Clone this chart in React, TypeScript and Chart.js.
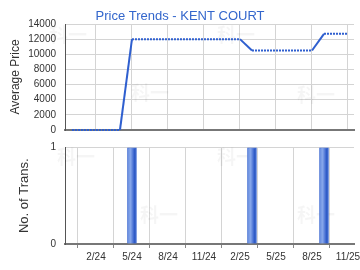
import React, { useEffect, useRef } from "react";
import { Chart, registerables } from "chart.js";

Chart.register(...registerables);

const TITLE = "Price Trends - KENT COURT";
const Y_TITLE_TOP = "Average Price";
const Y_TITLE_BOTTOM = "No. of Trans.";

// months counted from Jan 2024 (0 = 1/24)
const TICK_MONTHS = [1, 4, 7, 10, 13, 16, 19, 22];
const TICK_LABELS = ["2/24", "5/24", "8/24", "11/24", "2/25", "5/25", "8/25", "11/25"];

const PRICE_MONTHS = [-1, 0, 1, 2, 3, 4, 5, 6, 7, 8, 9, 10, 11, 12, 13, 14, 15, 16, 17, 18, 19, 20, 21, 22];
const PRICE_VALUES = [0, 0, 0, 0, 0, 12000, 12000, 12000, 12000, 12000, 12000, 12000, 12000, 12000, 12000, 10500, 10500, 10500, 10500, 10500, 10500, 12700, 12700, 12700];

const TRANS_MONTHS = [4, 14, 20];
const TRANS_COUNTS = [1, 1, 1];

const PRICE_TICKS = [0, 2000, 4000, 6000, 8000, 10000, 12000, 14000];

const X_MIN = -1.58;
const X_MAX = 22.5;
const FONT = "'Liberation Sans', Arial, sans-serif";
const BLUE = "#2f5fcf";
const GRID = "#d4d4d4";

const WATERMARK = "科一";

function watermarkPlugin(spots: [number, number][]) {
  return {
    id: "wm",
    beforeDatasetsDraw(chart: any) {
      const c = chart.ctx;
      c.save();
      c.fillStyle = "rgba(0,0,0,0.04)";
      c.font = "bold 19px 'Noto Sans CJK SC'";
      c.textAlign = "center";
      c.textBaseline = "middle";
      spots.forEach(([x, y]) => c.fillText(WATERMARK, x, y));
      c.restore();
    },
  };
}

const titlePlugin = {
  id: "ttl",
  afterDraw(chart: any) {
    const c = chart.ctx;
    c.save();
    c.fillStyle = "#3366cc";
    c.font = "13px " + FONT;
    c.textAlign = "center";
    c.textBaseline = "alphabetic";
    c.fillText(TITLE, 180, 19.5);
    c.restore();
  },
};

function xScale(showLabels: boolean, height: number) {
  return {
    type: "linear",
    min: X_MIN,
    max: X_MAX,
    offset: false,
    afterBuildTicks: (s: any) => {
      s.ticks = TICK_MONTHS.map((v) => ({ value: v }));
    },
    afterFit: (s: any) => {
      s.height = height;
      s.paddingLeft = 0;
      s.paddingRight = 0;
      s.paddingTop = 0;
      s.paddingBottom = 0;
    },
    grid: {
      color: GRID,
      lineWidth: 1,
      drawTicks: showLabels,
      tickLength: 4,
      tickColor: "#888",
    },
    border: { color: "#777", width: 2 },
    ticks: {
      display: showLabels,
      autoSkip: false,
      maxRotation: 0,
      padding: 3,
      color: "#333",
      font: { family: FONT, size: 10 },
      callback: (v: number) => {
        const i = TICK_MONTHS.indexOf(v);
        return i >= 0 ? TICK_LABELS[i] : "";
      },
    },
  };
}

function yFit(s: any) {
  s.width = 65;
  s.paddingLeft = 0;
  s.paddingRight = 0;
  s.paddingTop = 0;
  s.paddingBottom = 0;
}

export default function App() {
  const topRef = useRef<HTMLCanvasElement>(null);
  const botRef = useRef<HTMLCanvasElement>(null);

  useEffect(() => {
    const top = new Chart(topRef.current!, {
      type: "line",
      data: {
        datasets: [
          {
            data: PRICE_MONTHS.map((m, i) => ({ x: m, y: PRICE_VALUES[i] })),
            borderColor: BLUE,
            borderWidth: 2,
            pointRadius: 0,
            tension: 0,
            fill: false,
            clip: false,
            segment: {
              borderDash: (ctx: any) => (ctx.p0.parsed.y === ctx.p1.parsed.y ? [2, 1] : []),
            },
          },
        ],
      },
      options: {
        animation: false,
        responsive: false,
        layout: { padding: { top: 24, right: 6, left: 0, bottom: 0 } },
        plugins: { legend: { display: false }, tooltip: { enabled: false }, title: { display: false } },
        scales: {
          x: xScale(false, 10) as any,
          y: {
            min: 0,
            max: 14000,
            afterBuildTicks: (s: any) => {
              s.ticks = PRICE_TICKS.map((v) => ({ value: v }));
            },
            afterFit: yFit,
            grid: { color: GRID, drawTicks: false },
            border: { color: "#555", width: 1 },
            ticks: {
              padding: 9,
              color: "#333",
              font: { family: FONT, size: 10 },
              callback: (v: number) => String(v),
            },
            title: {
              display: true,
              text: Y_TITLE_TOP,
              color: "#333",
              font: { family: FONT, size: 12 },
              padding: { top: 8, bottom: 0 },
            },
          },
        },
      },
      plugins: [titlePlugin, watermarkPlugin([[68, 35], [150, 93], [236, 35], [316, 95]])],
    } as any);

    const bot = new Chart(botRef.current!, {
      type: "bar",
      data: {
        datasets: [
          {
            data: TRANS_MONTHS.map((m, i) => ({ x: m, y: TRANS_COUNTS[i] })),
            barThickness: 9,
            borderWidth: 1,
            borderColor: "#3d69d2",
            backgroundColor: (ctx: any) => {
              const chart = ctx.chart;
              if (!chart.chartArea) return BLUE;
              const x = chart.scales.x.getPixelForValue(TRANS_MONTHS[ctx.dataIndex]);
              const g = chart.ctx.createLinearGradient(x - 4.5, 0, x + 4.5, 0);
              g.addColorStop(0, "#6a90e0");
              g.addColorStop(0.35, "#86a6ea");
              g.addColorStop(0.7, "#3d67cf");
              g.addColorStop(0.85, "#2452c0");
              g.addColorStop(1, "#5c85dc");
              return g;
            },
          },
        ],
      },
      options: {
        animation: false,
        responsive: false,
        layout: { padding: { top: 12.5, right: 6, left: 0, bottom: 0 } },
        plugins: { legend: { display: false }, tooltip: { enabled: false }, title: { display: false } },
        scales: {
          x: xScale(true, 26) as any,
          y: {
            min: 0,
            max: 1,
            afterBuildTicks: (s: any) => {
              s.ticks = [{ value: 0 }, { value: 1 }];
            },
            afterFit: yFit,
            grid: { color: GRID, drawTicks: false },
            border: { color: "#555", width: 1 },
            ticks: {
              padding: 9,
              color: "#333",
              font: { family: FONT, size: 10 },
              callback: (v: number) => String(v),
            },
            title: {
              display: true,
              text: Y_TITLE_BOTTOM,
              color: "#333",
              font: { family: FONT, size: 13 },
              padding: { top: 17, bottom: 0 },
            },
          },
        },
      },
      plugins: [watermarkPlugin([[76, 22], [159, 80], [236, 22], [316, 80]])],
    } as any);

    return () => {
      top.destroy();
      bot.destroy();
    };
  }, []);

  return (
    <div style={{ position: "fixed", left: 0, top: 0, width: 360, height: 270, background: "#fff" }}>
      <canvas ref={topRef} width={360} height={140} style={{ position: "absolute", left: 0, top: 0 }} />
      <canvas ref={botRef} width={360} height={135} style={{ position: "absolute", left: 0, top: 135 }} />
    </div>
  );
}
